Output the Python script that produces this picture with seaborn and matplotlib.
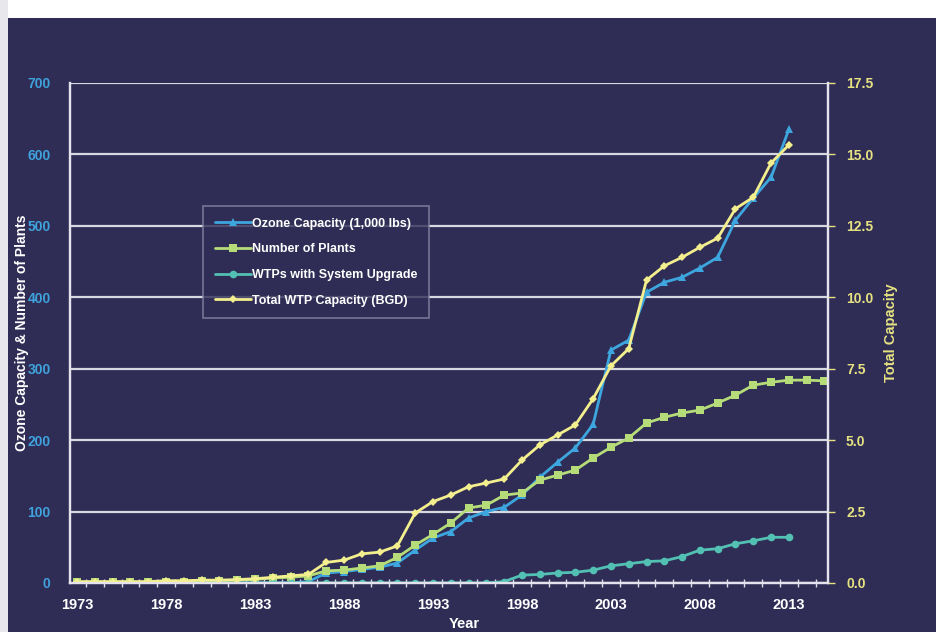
import numpy as np
import pandas as pd
import seaborn as sns
import matplotlib.pyplot as plt
from matplotlib.patches import Rectangle
from matplotlib.ticker import FixedLocator, FuncFormatter

# data
years = list(range(1973, 2016))
ozone_capacity = [0, 0, 0, 0, 0, 0, 0, 0, 0, 0, 0, 0, 0, 2,
                  14, 16, 19, 22, 28, 46, 63, 72, 91, 100, 106, 123, 148, 169,
                  189, 222, 326, 340, 407, 421, 428, 441, 456, 508, 539, 568, 635]
num_plants = [1, 1, 1, 1, 1, 2, 2, 3, 3, 4, 5, 7, 8, 10,
              17, 18, 21, 24, 36, 53, 68, 84, 105, 109, 123, 126, 144, 151,
              158, 175, 190, 203, 224, 232, 238, 242, 252, 263, 277, 281, 284, 284, 283]
wtp_upgrade = [0] * 24 + [2, 11, 12, 14, 15, 18, 24, 27, 30, 31, 37, 46, 48, 55, 59, 64, 64]
total_capacity = [0.05, 0.05, 0.05, 0.05, 0.05, 0.08, 0.08, 0.1, 0.1, 0.12, 0.15, 0.2, 0.25, 0.3,
                  0.72, 0.8, 1.02, 1.08, 1.3, 2.45, 2.85, 3.08, 3.37, 3.5, 3.64, 4.3, 4.83, 5.18,
                  5.53, 6.45, 7.6, 8.2, 10.6, 11.1, 11.4, 11.75, 12.07, 13.1, 13.5, 14.7, 15.33]

bg = '#2f2d55'
c_ozone = '#3ea6de'
c_plants = '#b6dc7a'
c_upgrade = '#52c0b2'
c_total = '#f3ef8e'

sns.set_theme(style='dark')
plt.rcParams['font.family'] = ['Liberation Sans', 'DejaVu Sans']

fig = plt.figure(figsize=(9.36, 6.32), dpi=100, facecolor=bg)
ax = fig.add_axes([70 / 936, 49 / 632, 758 / 936, 500 / 632])
ax.set_facecolor(bg)
ax2 = ax.twinx()

yrs_short = years[:len(ozone_capacity)]
sns.lineplot(x=yrs_short, y=ozone_capacity, ax=ax, color=c_ozone, marker='^', markersize=6,
             markeredgewidth=0, linewidth=2, label='Ozone Capacity (1,000 lbs)', legend=False)
sns.lineplot(x=years, y=num_plants, ax=ax, color=c_plants, marker='s', markersize=5.5,
             markeredgewidth=0, linewidth=2, label='Number of Plants', legend=False)
sns.lineplot(x=yrs_short, y=wtp_upgrade, ax=ax, color=c_upgrade, marker='o', markersize=5.5,
             markeredgewidth=0, linewidth=2, label='WTPs with System Upgrade', legend=False)
sns.lineplot(x=yrs_short, y=total_capacity, ax=ax2, color=c_total, marker='D', markersize=4.5,
             markeredgewidth=0, linewidth=2, label='Total WTP Capacity (BGD)', legend=False)

ax.set_xlim(1972.6, 2015.2)
ax.set_ylim(0, 700)
ax2.set_ylim(0, 17.5)
ax.set_yticks(range(0, 701, 100))
ax2.set_yticks(np.arange(0, 17.6, 2.5))
ax2.yaxis.set_major_formatter(FuncFormatter(lambda v, p: f'{v:.1f}'))
ax.set_xticks(range(1973, 2014, 5))
ax.xaxis.set_minor_locator(FixedLocator([y + 0.5 for y in range(1972, 2015)]))

ax.grid(axis='y', color='#d8d8e0', linewidth=1.6)
ax.grid(axis='x', visible=False)
ax2.grid(False)

ax.tick_params(axis='x', which='major', length=0, colors='white', labelsize=10.5, pad=11)
ax.tick_params(axis='x', which='minor', length=6, width=1, colors='#e0dde8', direction='inout', bottom=True)
ax.tick_params(axis='y', length=0, colors='#3fa2dc', labelsize=10, pad=14)
ax2.tick_params(axis='y', length=5, width=1, colors='#e6e282', labelsize=10, pad=8)
for lab in ax.get_xticklabels() + ax.get_yticklabels() + ax2.get_yticklabels():
    lab.set_fontweight('bold')

for a in (ax, ax2):
    for side in ('left', 'bottom', 'right'):
        a.spines[side].set_visible(True)
        a.spines[side].set_color('#e4e2ec')
        a.spines[side].set_linewidth(1.6)
    a.spines['top'].set_visible(False)

ax.set_xlabel('Year', color='white', fontsize=10.5, fontweight='bold')
ax.xaxis.set_label_coords(0.52, -0.069)
ax.set_ylabel('Ozone Capacity & Number of Plants', color='white', fontsize=10,
              fontweight='bold')
ax.yaxis.set_label_coords(-0.054, 0.5)
ax2.set_ylabel('Total Capacity', color='#e6e282', fontsize=10.5, fontweight='bold', labelpad=8)

h1, l1 = ax.get_legend_handles_labels()
h2, l2 = ax2.get_legend_handles_labels()
leg = ax2.legend(h1 + h2, l1 + l2, loc='upper left', bbox_to_anchor=(197 / 936, 432 / 632),
                 bbox_transform=fig.transFigure, frameon=True, fancybox=False,
                 facecolor=bg, edgecolor='#8a88a4', fontsize=9, handlelength=2.9,
                 handletextpad=0.1, labelspacing=1.1, borderpad=0.9)
leg.get_frame().set_linewidth(1.2)
for t in leg.get_texts():
    t.set_color('white')
    t.set_fontweight('bold')

# white paper edge from the photograph
fig.patches.append(Rectangle((0, 1 - 18 / 632), 1, 18 / 632, transform=fig.transFigure,
                             facecolor='white', edgecolor='none', zorder=-1))
fig.patches.append(Rectangle((0, 0), 8 / 936, 1, transform=fig.transFigure,
                             facecolor='#e8e8ec', edgecolor='none', zorder=-1))

fig.savefig('out.png', dpi=100, facecolor=bg)
